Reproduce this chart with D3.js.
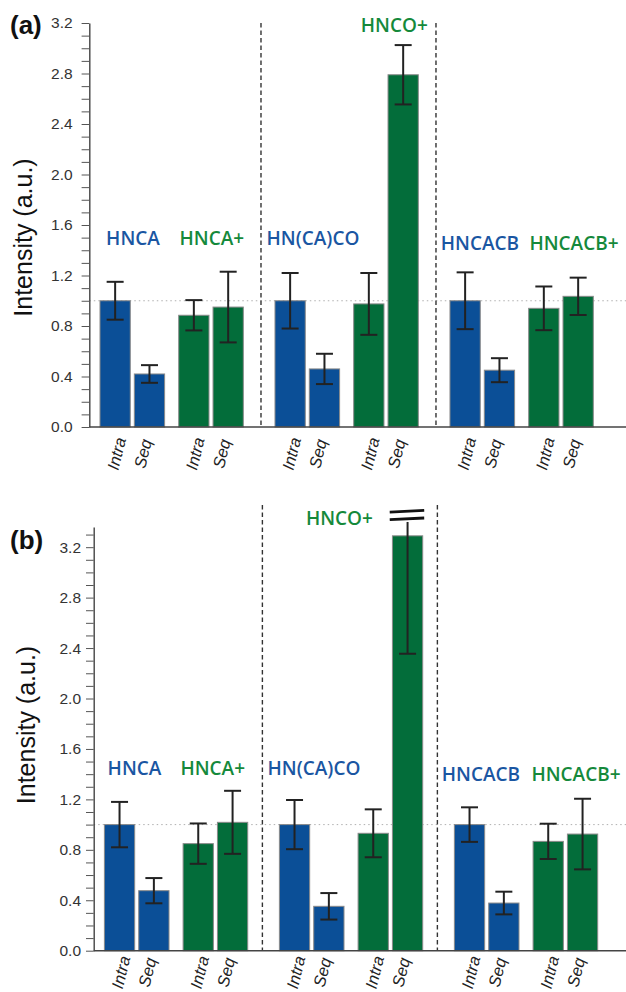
<!DOCTYPE html>
<html>
<head>
<meta charset="utf-8">
<script src="https://cdn.jsdelivr.net/npm/d3@7"></script>
<style>
  body { margin: 0; background: #fff; }
  svg text { font-family: "Liberation Sans", Arial, sans-serif; }
  .exp-label { font-family: "Open Sans", "Noto Sans", sans-serif !important; font-weight: 600; font-size: 19px; }
</style>
</head>
<body>
<div id="chart-container"></div>
<script>
// experiment groups, each holds a standard and a "+" experiment
const groupNames = ["HNCA", "HN(CA)CO", "HNCACB"];
const plusNames = ["HNCA+", "HNCO+", "HNCACB+"];
const pairKeys = ["standard", "plus"];
const peakTypes = ["Intra", "Seq"];

// order: group -> (standard Intra, standard Seq, plus Intra, plus Seq)
const intensityA = [1.00, 0.42, 0.885, 0.95, 1.00, 0.46, 0.975, 2.79, 1.00, 0.45, 0.94, 1.035];
const errorA     = [0.15, 0.07, 0.12, 0.28, 0.22, 0.12, 0.245, 0.235, 0.225, 0.095, 0.173, 0.148];

const intensityB = [1.00, 0.476, 0.849, 1.018, 1.00, 0.352, 0.931, 3.29, 1.00, 0.378, 0.867, 0.925];
const errorB     = [0.18, 0.10, 0.16, 0.25, 0.195, 0.105, 0.19, 0.935, 0.137, 0.09, 0.14, 0.28];

const yLabelTicks = [0, 0.4, 0.8, 1.2, 1.6, 2.0, 2.4, 2.8, 3.2];

const blue = "#0b4f97", green = "#036d3a";
const blueText = "#1a56a2", greenText = "#15893b";

const svg = d3.select("#chart-container")
  .append("svg")
  .attr("width", 626)
  .attr("height", 992);

function buildRows(values, errors) {
  const rows = [];
  groupNames.forEach((g, gi) => {
    pairKeys.forEach((p, pi) => {
      peakTypes.forEach((t, ti) => {
        const i = gi * 4 + pi * 2 + ti;
        rows.push({group: g, pair: p, type: t, value: values[i], err: errors[i], idx: i});
      });
    });
  });
  return rows;
}

function drawPanel(opt) {
  const g = svg.append("g");
  const rows = buildRows(opt.values, opt.errors);

  const y = d3.scaleLinear().domain([0, opt.yMax]).range([opt.y0, opt.y0 - opt.yMax * opt.pxPerUnit]);

  const xGroup = d3.scaleBand().domain(groupNames)
    .range([opt.axisX + 10.7, opt.axisX + 10.7 + 493.3])
    .paddingInner(0.181).paddingOuter(0);
  const xPair = d3.scaleBand().domain(pairKeys).range([0, xGroup.bandwidth()]).paddingInner(0.179);
  const xType = d3.scaleBand().domain(peakTypes).range([0, xPair.bandwidth()]).paddingInner(0.118);
  const barX = d => xGroup(d.group) + xPair(d.pair) + xType(d.type);
  const pairCenter = (gName, p) => xGroup(gName) + xPair(p) + xPair.bandwidth() / 2;

  // dotted reference at 1.0
  g.append("line")
    .attr("x1", opt.axisX).attr("x2", 626)
    .attr("y1", y(1)).attr("y2", y(1))
    .attr("stroke", "#b0b0b0").attr("stroke-width", 1)
    .attr("stroke-dasharray", "1.5,3");

  // dashed group dividers
  groupNames.slice(1).forEach(gn => {
    g.append("line")
      .attr("x1", xGroup(gn) + opt.dividerDx).attr("x2", xGroup(gn) + opt.dividerDx)
      .attr("y1", opt.dividerTop).attr("y2", opt.y0)
      .attr("stroke", "#333").attr("stroke-width", 1.4)
      .attr("stroke-dasharray", "4.5,3");
  });

  // bars
  g.selectAll(".bar")
    .data(rows)
    .enter()
    .append("rect")
    .attr("class", "bar")
    .attr("x", d => barX(d))
    .attr("y", d => y(d.value))
    .attr("width", xType.bandwidth())
    .attr("height", d => opt.y0 - y(d.value))
    .attr("fill", d => d.pair === "standard" ? blue : green)
    .attr("stroke", "#8a8a8a")
    .attr("stroke-width", 1);

  // error bars
  const capW = 8.5;
  rows.forEach(d => {
    const cx = barX(d) + xType.bandwidth() / 2;
    let top = d.value + d.err;
    const clipped = opt.clipAt && top > opt.clipAt;
    if (clipped) top = opt.clipAt;
    const low = d.value - d.err;
    g.append("line").attr("x1", cx).attr("x2", cx)
      .attr("y1", y(top)).attr("y2", y(low))
      .attr("stroke", "#222").attr("stroke-width", 2);
    g.append("line").attr("x1", cx - capW).attr("x2", cx + capW)
      .attr("y1", y(low)).attr("y2", y(low))
      .attr("stroke", "#222").attr("stroke-width", 2);
    if (!clipped) {
      g.append("line").attr("x1", cx - capW).attr("x2", cx + capW)
        .attr("y1", y(top)).attr("y2", y(top))
        .attr("stroke", "#222").attr("stroke-width", 2);
    } else {
      // axis break marks over the clipped bar
      [opt.clipAt + 0.025, opt.clipAt + 0.085].forEach(v => {
        g.append("line")
          .attr("x1", barX(d) - 2.7).attr("x2", barX(d) + xType.bandwidth() + 1.5)
          .attr("y1", y(v) + 0.8).attr("y2", y(v) - 0.8)
          .attr("stroke", "#111").attr("stroke-width", 2.8);
      });
    }
  });

  // y axis
  const minor = d3.range(0, Math.round(opt.tickMax * 10) + 1).map(i => i / 10);
  const axis = g.append("g")
    .attr("transform", `translate(${opt.axisX},0)`)
    .call(d3.axisLeft(y)
      .tickValues(minor)
      .tickSize(7.7)
      .tickSizeOuter(0)
      .tickPadding(opt.tickPad)
      .tickFormat(v => yLabelTicks.some(t => Math.abs(t - v) < 1e-6) ? d3.format(".1f")(v) : ""));
  axis.select(".domain").attr("stroke", "#444").attr("stroke-width", 1.4);
  axis.selectAll(".tick line").attr("stroke", "#555").attr("stroke-width", 1);
  axis.selectAll(".tick text").attr("font-size", 15.5).attr("fill", "#333")
    .attr("font-family", "'Liberation Sans', Arial, sans-serif");

  // baseline
  g.append("line")
    .attr("x1", opt.axisX).attr("x2", 626)
    .attr("y1", opt.y0).attr("y2", opt.y0)
    .attr("stroke", "#444").attr("stroke-width", 1.4);

  // x labels
  g.selectAll(".xlab")
    .data(rows)
    .enter()
    .append("text")
    .attr("class", "xlab")
    .attr("transform", d => {
      const cx = barX(d) + xType.bandwidth() / 2 + (d.type === "Intra" ? 7 : -1);
      return `translate(${cx},${opt.y0 + opt.xLabelDy}) rotate(-76)`;
    })
    .attr("text-anchor", "middle")
    .attr("font-size", 16.5)
    .attr("font-style", "italic")
    .attr("fill", "#222")
    .text(d => d.type);

  // experiment labels
  groupNames.forEach((gn, gi) => {
    [[gn, "standard", blueText], [plusNames[gi], "plus", greenText]].forEach(([name, p, col], pi) => {
      const L = opt.labels[gi * 2 + pi];
      g.append("text")
        .attr("class", "exp-label")
        .attr("x", pairCenter(gn, p) + L[0])
        .attr("y", y(L[1]))
        .attr("text-anchor", "middle")
        .attr("fill", col)
        .text(name);
    });
  });

  // axis title
  g.append("text")
    .attr("transform", `translate(${opt.titleX},${opt.titleY}) rotate(-90)`)
    .attr("text-anchor", "middle")
    .attr("font-size", 25)
    .attr("fill", "#111")
    .text("Intensity (a.u.)");

  // panel letter
  g.append("text")
    .attr("x", 10).attr("y", opt.letterY)
    .attr("font-size", 26)
    .attr("font-weight", "bold")
    .attr("fill", "#111")
    .text(opt.letter);
}

drawPanel({
  values: intensityA, errors: errorA,
  axisX: 89.3, y0: 427, pxPerUnit: 126.25, yMax: 3.2, tickMax: 3.2, tickPad: 9,
  dividerDx: -14, dividerTop: 23, xLabelDy: 28,
  labels: [[0.7, 1.442], [0.8, 1.442], [5.7, 1.442], [8.3, 3.126], [-2.3, 1.402], [13, 1.402]],
  titleX: 31.7, titleY: 237.5, letter: "(a)", letterY: 34
});

drawPanel({
  values: intensityB, errors: errorB,
  axisX: 93.7, y0: 950.7, pxPerUnit: 126.1, yMax: 3.36, tickMax: 3.3, tickPad: 5,
  dividerDx: -17, dividerTop: 505, clipAt: 3.40, xLabelDy: 23,
  labels: [[-2.2, 1.393], [-2.7, 1.393], [2.3, 1.393], [-51, 3.378], [-5.7, 1.348], [10.6, 1.348]],
  titleX: 35, titleY: 725, letter: "(b)", letterY: 549
});
</script>
</body>
</html>
